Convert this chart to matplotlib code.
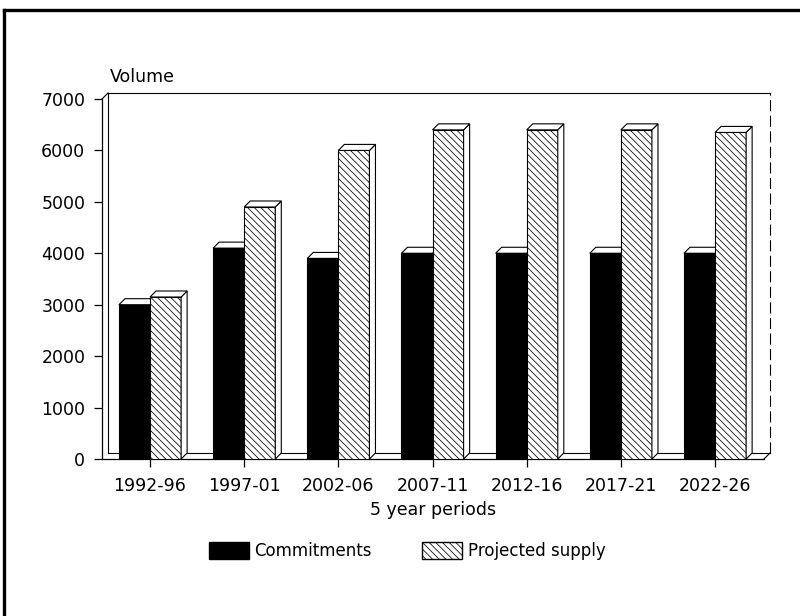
import matplotlib
matplotlib.use("Agg")
import matplotlib.pyplot as plt
from matplotlib.patches import Polygon, Patch
from matplotlib.lines import Line2D

periods = ['1992-96', '1997-01', '2002-06', '2007-11', '2012-16', '2017-21', '2022-26']
commitments = [3000, 4100, 3900, 4000, 4000, 4000, 4000]
projected = [3150, 4900, 6000, 6400, 6400, 6400, 6350]
yticks = [0, 1000, 2000, 3000, 4000, 5000, 6000, 7000]

plt.rcParams['font.family'] = ['DejaVu Sans']
plt.rcParams['hatch.linewidth'] = 0.55

fig = plt.figure(figsize=(8, 6.16), dpi=100)
ax = fig.add_axes([102 / 800, 1 - 459 / 616, (764 - 102) / 800, (459 - 99) / 616])

XMIN, XMAX = -0.51, 6.52
YMAX = 7000
DX, DY = 0.064, 117   # depth offset of the pseudo-3D look
W = 0.33
FS = 12.5
HATCH = '\\' * 5

ax.set_xlim(XMIN, XMAX)
ax.set_ylim(0, YMAX)

# back wall and floor
wall = dict(color='black', lw=0.8, zorder=1, clip_on=False)
ax.plot([XMIN + DX, XMAX + DX], [YMAX + DY, YMAX + DY], **wall)
ax.plot([XMIN + DX, XMIN + DX], [DY, YMAX + DY], **wall)
ax.plot([XMAX + DX, XMAX + DX], [DY, YMAX + DY], color='black', lw=0.8,
        zorder=1, clip_on=False, ls=(0, (10, 4)))
ax.plot([XMIN + DX, XMAX + DX], [DY, DY], **wall)
ax.plot([XMIN, XMIN + DX], [YMAX, YMAX + DY], **wall)
ax.plot([XMAX, XMAX + DX], [0, DY], **wall)

z = 2
for i, (c, p) in enumerate(zip(commitments, projected)):
    # commitments: black front face with a white top
    x0, x1 = i - W, i
    ax.add_patch(Polygon([(x0, c), (x0 + DX, c + DY), (x1 + DX, c + DY), (x1, c)],
                         closed=True, facecolor='white', edgecolor='black',
                         lw=0.8, zorder=z, clip_on=False))
    ax.bar(i - W / 2, c, width=W, color='black', edgecolor='black', lw=0.8,
           zorder=z + 1)
    # projected supply: hatched front face, white side and top
    x0, x1 = i, i + W
    ax.bar(i + W / 2, p, width=W, facecolor='white', edgecolor='black',
           hatch=HATCH, lw=0.8, zorder=z + 2)
    ax.add_patch(Polygon([(x1, 0), (x1 + DX, DY), (x1 + DX, p + DY), (x1, p)],
                         closed=True, facecolor='white', edgecolor='black',
                         lw=0.8, zorder=z + 3, clip_on=False))
    ax.add_patch(Polygon([(x0, p), (x0 + DX, p + DY), (x1 + DX, p + DY), (x1, p)],
                         closed=True, facecolor='white', edgecolor='black',
                         lw=0.8, zorder=z + 3, clip_on=False))
    z += 5

for s in ['top', 'right']:
    ax.spines[s].set_visible(False)
for s in ['left', 'bottom']:
    ax.spines[s].set_linewidth(0.9)

ax.set_yticks(yticks)
ax.set_yticklabels([str(v) for v in yticks], fontsize=FS)
ax.set_xticks(range(len(periods)))
ax.set_xticklabels(periods, fontsize=FS)
ax.tick_params(axis='y', direction='out', length=6, width=0.9, pad=6)
ax.tick_params(axis='x', direction='out', length=6, width=0.9, pad=7)

ax.set_xlabel('5 year periods', fontsize=FS, labelpad=4)
fig.text(110 / 800, 1 - 77 / 616, 'Volume', fontsize=FS, ha='left', va='center')

handles = [Patch(facecolor='black', edgecolor='black', label='Commitments'),
           Patch(facecolor='white', edgecolor='black', hatch=HATCH,
                 label='Projected supply')]
fig.legend(handles=handles, loc='center', bbox_to_anchor=(0.509, 1 - 551 / 616),
           ncol=2, frameon=False, fontsize=12, handlelength=2.4,
           handleheight=1.2, handletextpad=0.35, columnspacing=3.0)

# page frame
fig.add_artist(Line2D([4 / 800, 4 / 800], [0, 1 - 10 / 616], transform=fig.transFigure,
                      color='black', lw=2.4))
fig.add_artist(Line2D([4 / 800, 1], [1 - 10 / 616, 1 - 10 / 616], transform=fig.transFigure,
                      color='black', lw=2.4))

fig.savefig('out.png', dpi=100)
